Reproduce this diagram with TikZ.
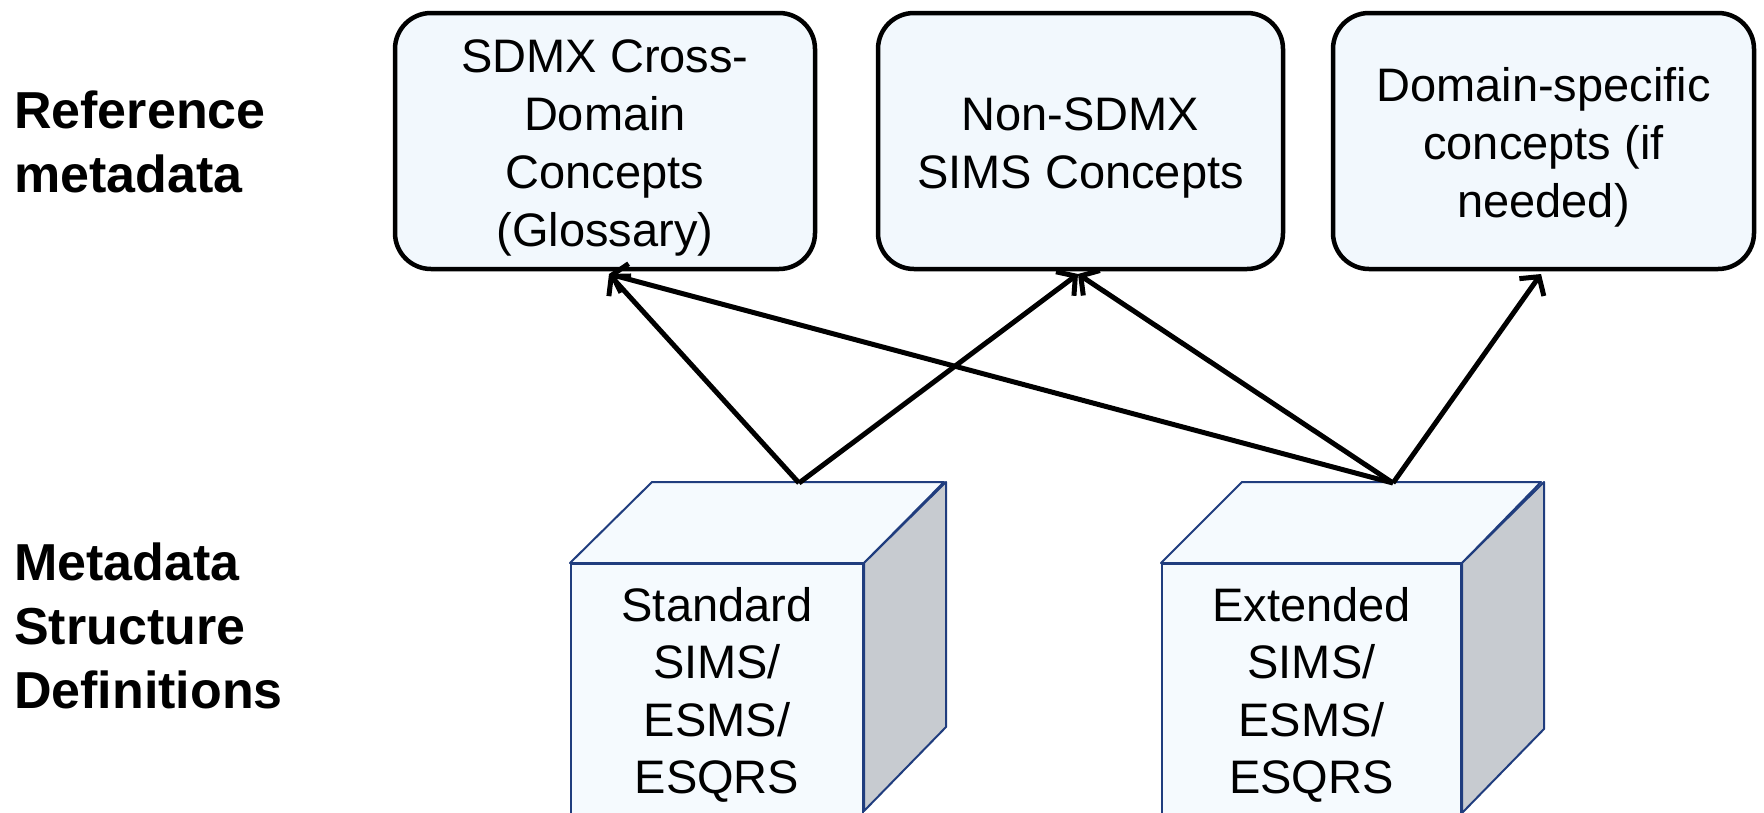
\documentclass[tikz,border=0pt]{standalone}
\usepackage{fontspec}
\setmainfont{Liberation Sans}
\usetikzlibrary{arrows.meta}
\definecolor{boxfill}{HTML}{F2F8FD}
\definecolor{cubefill}{HTML}{F5FAFE}
\definecolor{cubesidefill}{HTML}{C7CBD0}
\definecolor{cubeline}{HTML}{203D7E}
\newcommand\boxtopstrut{\rule{0pt}{46pt}}
\begin{document}
\begin{tikzpicture}[x=1pt,y=-1pt,
  conceptbox/.style={draw=black, line width=4.5pt, fill=boxfill, rounded corners=36pt,
    align=center, font=\fontsize{47}{58}\selectfont, inner sep=0pt,
    minimum height=256pt},
  cubefront/.style={draw=cubeline, line width=2pt, fill=cubefill, align=center,
    font=\fontsize{47}{57.5}\selectfont, inner sep=0pt, minimum height=262pt},
  cubetop/.style={draw=cubeline, line width=2pt, fill=cubefill, line join=round},
  cubeside/.style={draw=cubeline, line width=2pt, fill=cubesidefill, line join=round},
  arr/.style={line width=5pt, -{Straight Barb[length=13pt,width=30pt]}},
  rowlabel/.style={font=\bfseries\fontsize{52}{64}\selectfont, align=left,
    anchor=north west, inner sep=0pt}]
\useasboundingbox (0,0) rectangle (1764,812);

% row labels
\node[rowlabel] (lref) at (14,91) {Reference\\metadata};
\node[rowlabel] (lmsd) at (14,543) {Metadata\\Structure\\Definitions};

% concept boxes
\node[conceptbox, minimum width=420pt] (b1) at (605,141) {\boxtopstrut SDMX Cross-\\Domain\\Concepts\\(Glossary)};
\node[conceptbox, minimum width=405pt] (b2) at (1080.5,141) {\boxtopstrut Non-SDMX\\SIMS Concepts};
\node[conceptbox, minimum width=421pt] (b3) at (1543.5,141) {\boxtopstrut Domain-specific\\concepts (if\\needed)};

% cube 1
\node[cubefront, minimum width=292pt] (c1) at (717,695) {Standard\\SIMS/\\ESMS/\\ESQRS};
\draw[cubetop] (c1.north west) -- ++(82,-81) -- ++(292,0) -- (c1.north east) -- cycle;
\draw[cubeside] (c1.north east) -- ++(82,-81) -- ++(0,245) -- ++(-82,84) -- cycle;

% cube 2
\node[cubefront, minimum width=299pt] (c2) at (1311.5,695) {Extended\\SIMS/\\ESMS/\\ESQRS};
\draw[cubetop] (c2.north west) -- ++(81,-81) -- ++(299,0) -- (c2.north east) -- cycle;
\draw[cubeside] (c2.north east) -- ++(82,-81) -- ++(0,247) -- ++(-82,84) -- cycle;

% connector ends
\coordinate (c1apex) at (799,483);
\coordinate (c2apex) at (1393,483);
\coordinate (b1in) at (609,274);
\coordinate (b2in) at (1078,274);
\coordinate (b3in) at (1541,274);

% arrows
\draw[arr] (c1apex) -- (b1in);
\draw[arr] (c1apex) -- (b2in);
\draw[arr] (c2apex) -- (b1in);
\draw[arr] (c2apex) -- (b2in);
\draw[arr] (c2apex) -- (b3in);
\end{tikzpicture}
\end{document}
